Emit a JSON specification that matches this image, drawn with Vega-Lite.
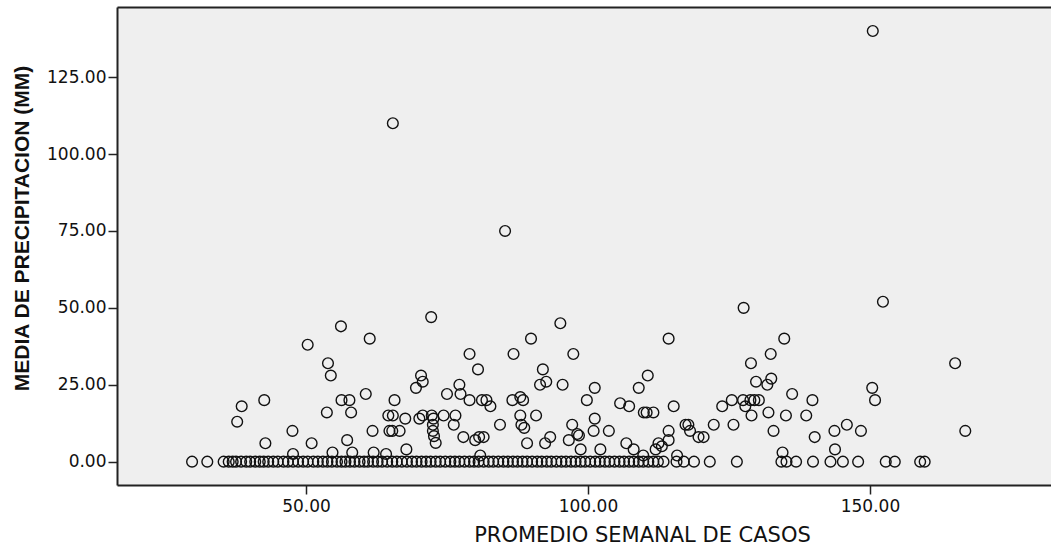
{
  "$schema": "https://vega.github.io/schema/vega-lite/v6.json",
  "width": 934,
  "height": 478,
  "autosize": {"type": "none"},
  "padding": {"left": 117, "top": 7, "right": 0, "bottom": 65},
  "background": "white",
  "config": {"view": {"fill": "#efefef", "stroke": null}},
  "datasets": {
    "pts": [
      {"casos": 150.5, "precip": 140}, {"casos": 65.4, "precip": 110}, {"casos": 85.3, "precip": 75},
      {"casos": 56.2, "precip": 44}, {"casos": 61.3, "precip": 40}, {"casos": 50.3, "precip": 38}, {"casos": 53.9, "precip": 32},
      {"casos": 54.4, "precip": 28}, {"casos": 60.6, "precip": 22}, {"casos": 56.3, "precip": 20}, {"casos": 57.7, "precip": 20},
      {"casos": 42.6, "precip": 20}, {"casos": 38.6, "precip": 18}, {"casos": 37.8, "precip": 13}, {"casos": 53.7, "precip": 16},
      {"casos": 58.0, "precip": 16}, {"casos": 47.6, "precip": 10}, {"casos": 42.8, "precip": 6}, {"casos": 51.0, "precip": 6},
      {"casos": 57.3, "precip": 7}, {"casos": 61.8, "precip": 10}, {"casos": 47.7, "precip": 2.5}, {"casos": 54.7, "precip": 3},
      {"casos": 58.2, "precip": 3}, {"casos": 62.0, "precip": 3}, {"casos": 64.2, "precip": 2.5},
      {"casos": 72.2, "precip": 47}, {"casos": 95.1, "precip": 45}, {"casos": 89.9, "precip": 40}, {"casos": 79.0, "precip": 35},
      {"casos": 86.8, "precip": 35}, {"casos": 97.4, "precip": 35}, {"casos": 80.5, "precip": 30}, {"casos": 92.0, "precip": 30},
      {"casos": 70.4, "precip": 28}, {"casos": 70.7, "precip": 26}, {"casos": 69.5, "precip": 24}, {"casos": 75.0, "precip": 22},
      {"casos": 77.2, "precip": 25}, {"casos": 77.4, "precip": 22}, {"casos": 92.6, "precip": 26}, {"casos": 91.5, "precip": 25},
      {"casos": 95.5, "precip": 25}, {"casos": 65.7, "precip": 20}, {"casos": 79.0, "precip": 20}, {"casos": 81.2, "precip": 20},
      {"casos": 82.0, "precip": 20}, {"casos": 82.7, "precip": 18}, {"casos": 86.6, "precip": 20}, {"casos": 88.0, "precip": 21},
      {"casos": 88.5, "precip": 20}, {"casos": 64.6, "precip": 15}, {"casos": 65.4, "precip": 15}, {"casos": 67.6, "precip": 14},
      {"casos": 70.1, "precip": 14}, {"casos": 70.7, "precip": 15}, {"casos": 72.3, "precip": 15}, {"casos": 72.6, "precip": 14},
      {"casos": 74.4, "precip": 15}, {"casos": 76.5, "precip": 15}, {"casos": 76.2, "precip": 12}, {"casos": 64.8, "precip": 10},
      {"casos": 65.3, "precip": 10}, {"casos": 66.6, "precip": 10}, {"casos": 72.5, "precip": 12}, {"casos": 72.5, "precip": 10},
      {"casos": 72.7, "precip": 8.3}, {"casos": 73.0, "precip": 6.1}, {"casos": 67.8, "precip": 4}, {"casos": 77.9, "precip": 8},
      {"casos": 80.0, "precip": 7}, {"casos": 80.7, "precip": 8}, {"casos": 81.5, "precip": 8}, {"casos": 80.9, "precip": 2},
      {"casos": 84.4, "precip": 12}, {"casos": 88.0, "precip": 15}, {"casos": 88.2, "precip": 12}, {"casos": 88.7, "precip": 11},
      {"casos": 90.8, "precip": 15}, {"casos": 89.2, "precip": 6}, {"casos": 92.4, "precip": 6}, {"casos": 93.3, "precip": 8},
      {"casos": 96.6, "precip": 7}, {"casos": 98.1, "precip": 9}, {"casos": 98.4, "precip": 8.5}, {"casos": 97.2, "precip": 12},
      {"casos": 98.7, "precip": 4}, {"casos": 99.8, "precip": 20},
      {"casos": 127.6, "precip": 50}, {"casos": 114.3, "precip": 40}, {"casos": 134.8, "precip": 40}, {"casos": 132.4, "precip": 35},
      {"casos": 128.9, "precip": 32}, {"casos": 110.6, "precip": 28}, {"casos": 132.5, "precip": 27}, {"casos": 129.8, "precip": 26},
      {"casos": 131.8, "precip": 25}, {"casos": 109.0, "precip": 24}, {"casos": 101.2, "precip": 24}, {"casos": 105.7, "precip": 19},
      {"casos": 107.3, "precip": 18}, {"casos": 109.9, "precip": 16}, {"casos": 110.4, "precip": 16}, {"casos": 111.6, "precip": 16},
      {"casos": 115.2, "precip": 18}, {"casos": 123.8, "precip": 18}, {"casos": 125.5, "precip": 20}, {"casos": 127.5, "precip": 20},
      {"casos": 128.8, "precip": 20}, {"casos": 129.5, "precip": 20}, {"casos": 130.3, "precip": 20}, {"casos": 127.9, "precip": 18},
      {"casos": 129.0, "precip": 15}, {"casos": 132.0, "precip": 16}, {"casos": 135.1, "precip": 15}, {"casos": 101.2, "precip": 14},
      {"casos": 101.0, "precip": 10}, {"casos": 103.7, "precip": 10}, {"casos": 106.8, "precip": 6}, {"casos": 108.1, "precip": 4},
      {"casos": 109.8, "precip": 2}, {"casos": 112.0, "precip": 4}, {"casos": 112.5, "precip": 6}, {"casos": 113.1, "precip": 5},
      {"casos": 114.3, "precip": 10}, {"casos": 114.3, "precip": 7}, {"casos": 117.3, "precip": 12}, {"casos": 117.8, "precip": 12},
      {"casos": 118.1, "precip": 10}, {"casos": 119.6, "precip": 8}, {"casos": 120.5, "precip": 8}, {"casos": 122.3, "precip": 12},
      {"casos": 125.8, "precip": 12}, {"casos": 132.9, "precip": 10}, {"casos": 134.5, "precip": 3}, {"casos": 102.2, "precip": 4},
      {"casos": 115.8, "precip": 2},
      {"casos": 152.3, "precip": 52}, {"casos": 165.1, "precip": 32}, {"casos": 136.2, "precip": 22}, {"casos": 139.8, "precip": 20},
      {"casos": 138.7, "precip": 15}, {"casos": 150.4, "precip": 24}, {"casos": 150.9, "precip": 20}, {"casos": 143.7, "precip": 10},
      {"casos": 145.9, "precip": 12}, {"casos": 148.4, "precip": 10}, {"casos": 140.2, "precip": 8}, {"casos": 143.8, "precip": 4},
      {"casos": 166.9, "precip": 10},
      {"casos": 29.8, "precip": 0}, {"casos": 32.5, "precip": 0}, {"casos": 35.4, "precip": 0}, {"casos": 36.3, "precip": 0},
      {"casos": 37.0, "precip": 0}, {"casos": 37.6, "precip": 0}, {"casos": 38.5, "precip": 0}, {"casos": 39.4, "precip": 0},
      {"casos": 40.1, "precip": 0}, {"casos": 41.0, "precip": 0}, {"casos": 41.8, "precip": 0}, {"casos": 42.5, "precip": 0},
      {"casos": 43.3, "precip": 0}, {"casos": 44.2, "precip": 0}, {"casos": 45.0, "precip": 0}, {"casos": 46.0, "precip": 0},
      {"casos": 46.8, "precip": 0}, {"casos": 47.7, "precip": 0}, {"casos": 48.6, "precip": 0}, {"casos": 49.5, "precip": 0},
      {"casos": 50.3, "precip": 0}, {"casos": 51.3, "precip": 0}, {"casos": 52.1, "precip": 0}, {"casos": 53.0, "precip": 0},
      {"casos": 53.8, "precip": 0}, {"casos": 54.6, "precip": 0}, {"casos": 55.5, "precip": 0}, {"casos": 56.3, "precip": 0},
      {"casos": 57.0, "precip": 0}, {"casos": 57.8, "precip": 0}, {"casos": 58.6, "precip": 0}, {"casos": 59.5, "precip": 0},
      {"casos": 60.3, "precip": 0}, {"casos": 61.0, "precip": 0}, {"casos": 61.9, "precip": 0}, {"casos": 62.7, "precip": 0},
      {"casos": 63.5, "precip": 0}, {"casos": 64.4, "precip": 0}, {"casos": 65.3, "precip": 0}, {"casos": 66.1, "precip": 0},
      {"casos": 67.0, "precip": 0}, {"casos": 67.9, "precip": 0}, {"casos": 68.8, "precip": 0}, {"casos": 69.6, "precip": 0},
      {"casos": 70.5, "precip": 0}, {"casos": 71.3, "precip": 0}, {"casos": 72.1, "precip": 0}, {"casos": 73.0, "precip": 0},
      {"casos": 73.8, "precip": 0}, {"casos": 74.7, "precip": 0}, {"casos": 75.6, "precip": 0}, {"casos": 76.4, "precip": 0},
      {"casos": 77.2, "precip": 0}, {"casos": 78.1, "precip": 0}, {"casos": 79.0, "precip": 0}, {"casos": 79.8, "precip": 0},
      {"casos": 80.6, "precip": 0}, {"casos": 81.5, "precip": 0}, {"casos": 82.4, "precip": 0}, {"casos": 83.2, "precip": 0},
      {"casos": 84.1, "precip": 0}, {"casos": 85.0, "precip": 0}, {"casos": 85.8, "precip": 0}, {"casos": 86.7, "precip": 0},
      {"casos": 87.5, "precip": 0}, {"casos": 88.4, "precip": 0}, {"casos": 89.2, "precip": 0}, {"casos": 90.1, "precip": 0},
      {"casos": 91.0, "precip": 0}, {"casos": 91.8, "precip": 0}, {"casos": 92.7, "precip": 0}, {"casos": 93.5, "precip": 0},
      {"casos": 94.4, "precip": 0}, {"casos": 95.3, "precip": 0}, {"casos": 96.1, "precip": 0}, {"casos": 97.0, "precip": 0},
      {"casos": 97.8, "precip": 0}, {"casos": 98.7, "precip": 0}, {"casos": 99.5, "precip": 0}, {"casos": 100.4, "precip": 0},
      {"casos": 101.3, "precip": 0}, {"casos": 102.1, "precip": 0}, {"casos": 103.0, "precip": 0}, {"casos": 103.8, "precip": 0},
      {"casos": 104.7, "precip": 0}, {"casos": 105.6, "precip": 0}, {"casos": 106.4, "precip": 0}, {"casos": 107.3, "precip": 0},
      {"casos": 108.1, "precip": 0}, {"casos": 109.0, "precip": 0}, {"casos": 109.8, "precip": 0}, {"casos": 110.7, "precip": 0},
      {"casos": 111.6, "precip": 0}, {"casos": 112.4, "precip": 0}, {"casos": 113.4, "precip": 0}, {"casos": 115.7, "precip": 0},
      {"casos": 117.0, "precip": 0}, {"casos": 118.8, "precip": 0}, {"casos": 121.6, "precip": 0}, {"casos": 126.4, "precip": 0},
      {"casos": 134.3, "precip": 0}, {"casos": 135.2, "precip": 0}, {"casos": 136.9, "precip": 0}, {"casos": 139.9, "precip": 0},
      {"casos": 143.0, "precip": 0}, {"casos": 145.2, "precip": 0}, {"casos": 147.9, "precip": 0}, {"casos": 152.8, "precip": 0},
      {"casos": 154.4, "precip": 0}, {"casos": 158.9, "precip": 0}, {"casos": 159.7, "precip": 0}
    ]
  },
  "data": {"name": "pts"},
  "layer": [
    {
      "mark": {"type": "point", "shape": "circle", "filled": false, "size": 115, "strokeWidth": 1.4, "color": "#111111", "opacity": 1},
      "encoding": {
        "x": {
          "field": "casos", "type": "quantitative",
          "scale": {"domain": [16.49, 182.1], "nice": false, "zero": false},
          "axis": {
            "values": [50, 100, 150], "format": ".2f", "grid": false,
            "title": "PROMEDIO SEMANAL DE CASOS",
            "titleFont": "DejaVu Sans", "titleFontSize": 21, "titleFontWeight": "normal", "titleColor": "#111",
            "titleX": 525, "titleY": 50, "titleAlign": "center", "titleBaseline": "middle",
            "labelFont": "DejaVu Sans", "labelFontSize": 17, "labelColor": "#111", "labelPadding": 4,
            "tickSize": 9, "tickColor": "#222", "tickWidth": 1.5,
            "domainColor": "#222", "domainWidth": 2
          }
        },
        "y": {
          "field": "precip", "type": "quantitative",
          "scale": {"domain": [-7.58, 147.8], "nice": false, "zero": false},
          "axis": {
            "values": [0, 25, 50, 75, 100, 125], "format": ".2f", "grid": false,
            "title": "MEDIA DE PRECIPITACION (MM)",
            "titleFont": "Liberation Sans", "titleFontSize": 21, "titleFontWeight": "bold", "titleColor": "#111",
            "titleX": -95, "titleY": 221, "titleAngle": 270, "titleAlign": "center", "titleBaseline": "middle",
            "labelFont": "DejaVu Sans", "labelFontSize": 17, "labelColor": "#111", "labelPadding": 2,
            "tickSize": 9, "tickColor": "#222", "tickWidth": 1.5,
            "domainColor": "#222", "domainWidth": 2
          }
        }
      }
    },
    {
      "mark": {"type": "point", "opacity": 0},
      "encoding": {
        "x": {
          "field": "casos", "type": "quantitative",
          "axis": {"orient": "top", "labels": false, "ticks": false, "title": null, "grid": false, "domain": true, "domainColor": "#222", "domainWidth": 2}
        }
      }
    }
  ],
  "resolve": {"axis": {"x": "independent"}}
}
